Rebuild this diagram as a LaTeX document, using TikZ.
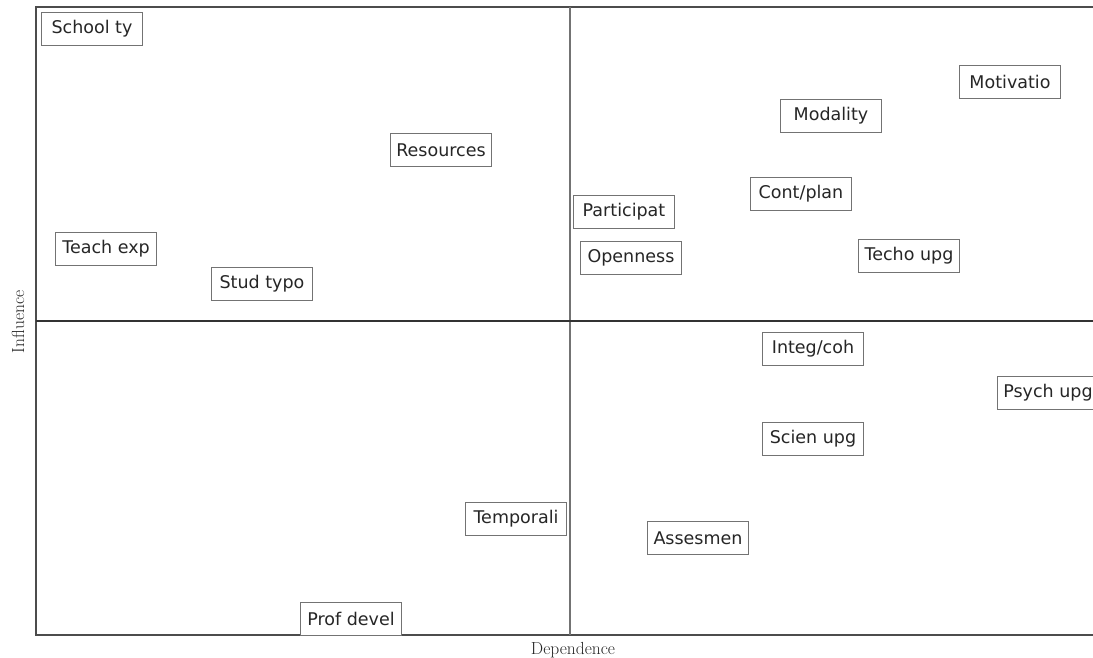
\documentclass[tikz,border=0pt]{standalone}
\usepackage{fontspec}
\newfontfamily\factorfont{DejaVu Sans}
\usetikzlibrary{positioning}

\begin{document}
\begin{tikzpicture}[x=1pt,y=-1pt,
  factor/.style={draw=black!55, fill=white, line width=0.9pt, minimum width=101pt,
                 minimum height=33pt, inner sep=0pt, text=black!85,
                 font=\factorfont\fontsize{17.5}{19}\selectfont},
  axisname/.style={font=\fontsize{17.5}{19}\selectfont, text=black!85},
  frame/.style={draw=black!70, line width=1.6pt}]

\useasboundingbox (0,0) rectangle (1093,658);

\draw[frame] (1110,7) -- (36,7) -- (36,635) -- (1110,635);
\draw[black!55, line width=2.6pt] (570,7) -- (570,635);
\draw[black!80, line width=1.5pt] (36,321) -- (1110,321);

\node[axisname] (dep) at (573,650) {Dependence};
\node[axisname, rotate=90] (inf) at (18,322) {Influence};

\node[factor] (school)  at (92,29)   {School ty};
\node[factor] (motiv)   at (1010,82) {Motivatio};
\node[factor] (modal)   at (831,116) {Modality};
\node[factor] (resour)  at (441,150) {Resources};
\node[factor] (contpl)  at (801,194) {Cont/plan};
\node[factor] (partic)  at (624,212) {Participat};
\node[factor] (teach)   at (106,249) {Teach exp};
\node[factor] (open)    at (631,258) {Openness};
\node[factor] (techo)   at (909,256) {Techo upg};
\node[factor] (stud)    at (262,284) {Stud typo};
\node[factor] (integ)   at (813,349) {Integ/coh};
\node[factor] (psych)   at (1048,393) {Psych upg};
\node[factor] (scien)   at (813,439) {Scien upg};
\node[factor] (tempor)  at (516,519) {Temporali};
\node[factor] (asses)   at (698,538) {Assesmen};
\node[factor] (prof)    at (351,619) {Prof devel};

\end{tikzpicture}
\end{document}
